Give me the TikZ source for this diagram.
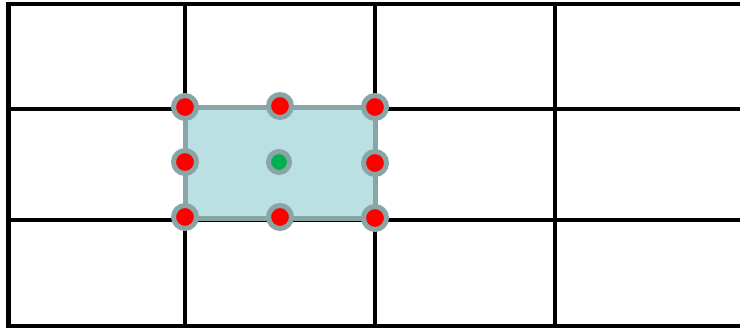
\documentclass[tikz,border=0pt]{standalone}
\usetikzlibrary{math}
\definecolor{cellblue}{RGB}{187,224,227}
\definecolor{ringgray}{RGB}{138,165,166}
\definecolor{ptred}{RGB}{255,0,0}
\definecolor{ptgreen}{RGB}{0,176,80}
\tikzset{
  gridline/.style={line width=0.085cm,color=black},
  dot/.style={circle,draw=ringgray,line width=0.1cm,minimum size=0.46cm,inner sep=0pt}
}
\begin{document}
\begin{tikzpicture}[x=0.02cm,y=-0.02cm]
\tikzmath{
\W=740;
\H=328;
\xa=185;%cell left
\xb=375;%cell right
\ya=107;%cell top
\yb=218;%cell bottom
}
\useasboundingbox (0,0) rectangle (\W,\H);

% grid
\foreach \gx in {8.5,185,375,555}
  \draw[gridline] (\gx,4) -- (\gx,326);
\foreach \gy in {4,109,220,326}
  \draw[gridline] (8.5,\gy) -- (\W+5,\gy);
\draw[gridline,line cap=rect] (\W+5,4) -- (8.5,4) -- (8.5,326) -- (\W+5,326);

% highlighted cell
\draw[fill=cellblue,draw=ringgray,line width=0.1cm] (\xa,\ya) rectangle (\xb,\yb);

% points
\foreach \px/\py/\pn in {185/107/tl,280/106/tm,375/107/tr,185/162/ml,375/163/mr,185/217/bl,280/217/bm,375/218/br}
  \node[dot,fill=ptred] (\pn) at (\px,\py) {};
\node[dot,fill=ptgreen,minimum size=0.42cm] (c) at (279,162) {};
\end{tikzpicture}
\end{document}
